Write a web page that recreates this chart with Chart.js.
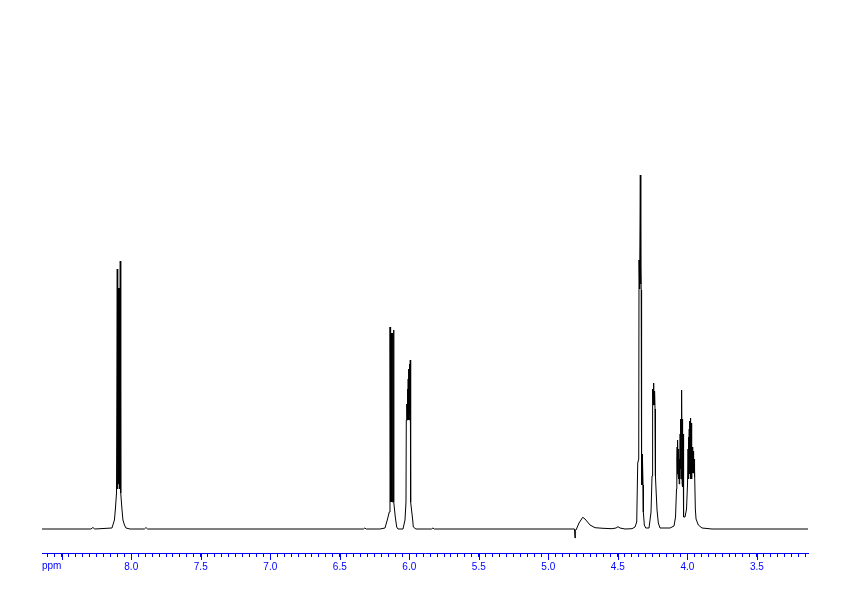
<!DOCTYPE html>
<html>
<head>
<meta charset="utf-8">
<title>1H NMR spectrum</title>
<script src="https://cdn.jsdelivr.net/npm/chart.js@4/dist/chart.umd.min.js"></script>
<style>
  html, body { margin: 0; padding: 0; background: #fff; }
  canvas { display: block; }
</style>
</head>
<body>
<canvas id="spectrum" width="842" height="596"></canvas>
<script>
// Spectrum trace: chemical shift (ppm) and intensity (arbitrary units)
const shifts = [
  8.642, 8.29, 8.276, 8.262,
  // doublet ~8.09
  8.139, 8.132, 8.121, 8.114, 8.106, 8.1007, 8.0986, 8.0964, 8.0942, 8.0921, 8.0899,
  8.0878, 8.0856, 8.0835, 8.0813, 8.0791, 8.0770, 8.0741, 8.0669, 8.0597, 8.0489, 8.0381,
  8.009, 7.905, 7.894, 7.883, 6.33, 6.32, 6.31,
  // multiplet ~6.13
  6.2108, 6.1748, 6.1583, 6.1439, 6.1388, 6.1385, 6.1367, 6.1345, 6.1324, 6.1302, 6.1281,
  6.1259, 6.1237, 6.1216, 6.1194, 6.1173, 6.1151, 6.1129, 6.1108, 6.1007, 6.0906, 6.0813,
  // multiplet ~6.00
  6.0453, 6.0309, 6.0237, 6.0216, 6.0180, 6.0158, 6.0129, 6.0108, 6.0079, 6.0058, 6.0029,
  6.0007, 5.9978, 5.9957, 5.9928, 5.9906, 5.9899, 5.9755, 5.9712, 5.952, 5.84, 5.83, 5.82,
  // broad solvent hump ~4.75
  4.8115, 4.8079, 4.8058, 4.8007, 4.7791, 4.7525, 4.7360, 4.7000, 4.6640, 4.6065, 4.5417,
  4.5129, 4.4986, 4.4842, 4.4482, 4.3978,
  // tall multiplet ~4.34
  4.3763, 4.3640, 4.3568, 4.3496, 4.3475, 4.3453, 4.3432, 4.3410, 4.3381, 4.3360, 4.3338,
  4.3317, 4.3302, 4.3281, 4.3259, 4.3237, 4.3216, 4.3187, 4.3165, 4.3093, 4.2993, 4.2755,
  // multiplet ~4.24
  4.2612, 4.2540, 4.2518, 4.2497, 4.2475, 4.2453, 4.2432, 4.2410, 4.2389, 4.2367, 4.2345,
  4.2324, 4.2295, 4.2252, 4.2180, 4.2086, 4.1964, 4.1245, 4.0957,
  // multiplets ~4.06 and ~3.97
  4.0849, 4.0777, 4.0755, 4.0734, 4.0712, 4.0691, 4.0669, 4.0647, 4.0626, 4.0604, 4.0583,
  4.0561, 4.0540, 4.0518, 4.0496, 4.0475, 4.0453, 4.0432, 4.0410, 4.0396, 4.0374, 4.0353,
  4.0331, 4.0309, 4.0288, 4.0252, 4.0165, 4.0115, 4.0058, 3.9986, 3.9950, 3.9928, 3.9907,
  3.9885, 3.9863, 3.9842, 3.9820, 3.9799, 3.9777, 3.9755, 3.9734, 3.9712, 3.9691, 3.9669,
  3.9647, 3.9626, 3.9604, 3.9583, 3.9561, 3.9540, 3.9518, 3.9496, 3.9468, 3.9424, 3.9374,
  3.9209, 3.8943, 3.8223, 3.132
];
const intens = [
  0, 0, 1.5, 0,
  1, 4, 9, 20, 36, 260, 40, 241, 45, 241, 45,
  241, 45, 241, 40, 268, 36, 36, 20, 9, 4, 1,
  0, 0, 1.5, 0, 0, 1, 0,
  0, 1, 9, 17, 27, 202, 27, 196, 27, 196, 27,
  196, 27, 196, 27, 196, 27, 199, 27, 12, 2, 0,
  0, 9, 27, 109, 125, 109, 140, 109, 150, 109, 160,
  109, 165, 115, 169, 109, 27, 9, 2, 0, 0, 1, 0,
  0, -9, -1, -1, 6, 11.7, 10, 4, 1.3, 0.7, 0.3,
  1, 2.3, 1, 0, 0.3,
  2, 7, 66, 70, 269, 245, 262, 240, 354, 245, 262,
  239, 79, 44, 75, 44, 70, 44, 17, 4, 1, 1,
  17, 53, 130, 124, 140, 124, 146, 124, 136, 124, 138,
  120, 53, 40, 19, 6, 1, 1, 3,
  12, 40, 70, 82, 55, 89, 55, 80, 50, 79, 45,
  70, 50, 95, 60, 110, 50, 120, 55, 139, 45, 110,
  42, 95, 40, 12, 12, 12, 20, 45, 80, 50, 92,
  55, 100, 55, 108, 60, 111, 50, 106, 50, 100, 50,
  82, 56, 75, 56, 78, 56, 70, 52, 60, 20, 10,
  4, 1, 0, 0
];

// Axis
const majorTicks = [8.0, 7.5, 7.0, 6.5, 6.0, 5.5, 5.0, 4.5, 4.0, 3.5];
const axisUnit = 'ppm';
const axisColor = '#0000ff';

const points = shifts.map((s, i) => ({ x: s, y: intens[i] }));

// longer ticks every 0.5 ppm and the "ppm" caption at the left end of the axis
const axisExtras = {
    id: 'axisExtras',
    afterDraw(chart) {
        const xs = chart.scales.x;
        const ctx = chart.ctx;
        ctx.save();
        ctx.strokeStyle = axisColor;
        ctx.lineWidth = 1;
        xs.ticks.forEach(t => {
            if (Math.abs(t.value * 2 - Math.round(t.value * 2)) < 1e-6) {
                const px = Math.round(xs.getPixelForValue(t.value)) + 0.5;
                ctx.beginPath();
                ctx.moveTo(px, xs.top);
                ctx.lineTo(px, xs.top + 7);
                ctx.stroke();
            }
        });
        ctx.fillStyle = axisColor;
        ctx.font = '10px "Liberation Sans"';
        ctx.textBaseline = 'top';
        ctx.textAlign = 'left';
        ctx.fillText(axisUnit, chart.chartArea.left, xs.top + 8);
        ctx.restore();
    }
};

new Chart(document.getElementById('spectrum'), {
    type: 'line',
    data: {
        datasets: [{
            data: points,
            borderColor: '#000000',
            borderWidth: 1,
            pointRadius: 0,
            tension: 0,
            fill: false
        }]
    },
    options: {
        responsive: false,
        animation: false,
        events: [],
        layout: { padding: { left: 42, right: 34, top: 10, bottom: 0 } },
        plugins: {
            legend: { display: false },
            tooltip: { enabled: false }
        },
        scales: {
            x: {
                type: 'linear',
                reverse: true,
                min: 3.132,
                max: 8.642,
                border: { display: true, color: axisColor, width: 1 },
                grid: {
                    drawOnChartArea: false,
                    drawTicks: true,
                    tickLength: 4,
                    color: axisColor,
                    tickColor: axisColor
                },
                ticks: {
                    stepSize: 0.05,
                    includeBounds: false,
                    autoSkip: false,
                    maxRotation: 0,
                    minRotation: 0,
                    padding: 4,
                    color: axisColor,
                    font: { family: 'Liberation Sans', size: 10 },
                    callback: v => majorTicks.some(m => Math.abs(m - v) < 1e-6) ? v.toFixed(1) : ''
                },
                afterFit: s => { s.height = 43; }
            },
            y: {
                display: false,
                min: -24,
                max: 519
            }
        }
    },
    plugins: [axisExtras]
});
</script>
</body>
</html>
